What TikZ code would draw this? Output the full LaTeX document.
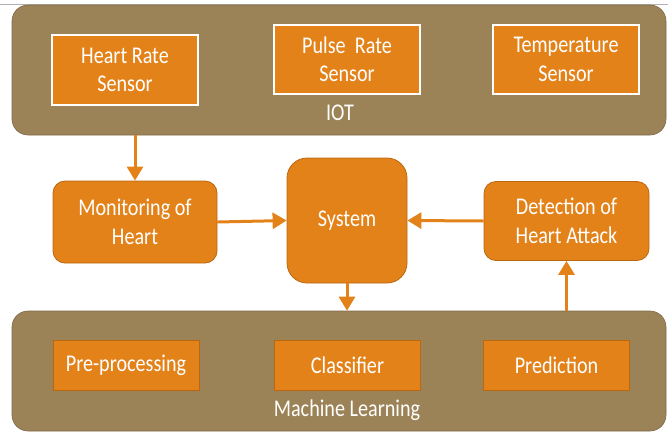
\documentclass[tikz,border=0pt]{standalone}
\usepackage{fontspec}
\setmainfont{Carlito}[FakeStretch=0.84]
\usetikzlibrary{arrows.meta}
\definecolor{tan}{HTML}{9C8357}
\definecolor{org}{HTML}{E4821A}
\definecolor{orgdark}{HTML}{B9680F}
\tikzset{
  lbl/.style={text=white, font=\fontsize{24}{28.5}\selectfont, align=center},
  group/.style={fill=tan, draw=tan!80!black, line width=0.6pt, rounded corners=16pt},
  sensor/.style={lbl, fill=org, draw=white, line width=1.6pt, minimum width=146pt, minimum height=70pt},
  mlbox/.style={lbl, fill=org, draw=orgdark, line width=0.8pt, minimum width=146pt, minimum height=50pt},
  rbox/.style={lbl, fill=org, draw=orgdark, line width=0.8pt, rounded corners=12pt},
  conn/.style={draw=org, line width=3pt, -{Triangle[length=14pt,width=16pt]}},
  grplabel/.style={lbl}
}
\begin{document}
\begin{tikzpicture}[x=1pt,y=-1pt]
\useasboundingbox (0,0) rectangle (668,434);
\draw[gray!60, line width=0.6pt] (0,4) -- (668,4);
% groups
\node[group, minimum width=654pt, minimum height=130pt, inner sep=0pt] (iot) at (339,70) {};
\node[group, minimum width=654pt, minimum height=120pt, inner sep=0pt] (ml) at (339,371) {};
% sensors
\node[sensor, inner sep=0pt] (hr) at (125,70) {Heart Rate\\Sensor};
\node[sensor, inner sep=0pt, minimum height=69pt] (pr) at (347,59.5) {Pulse\ \ Rate\\Sensor};
\node[sensor, inner sep=0pt, minimum height=69pt] (ts) at (566,59.5) {Temperature\\Sensor};
\node[grplabel] (iotl) at (340,113) {IOT};
% middle
\node[rbox, inner sep=0pt, minimum width=164pt, minimum height=82pt] (mon) at (135,222) {Monitoring of\\Heart};
\node[rbox, inner sep=0pt, minimum width=120pt, minimum height=125pt, rounded corners=20pt] (sys) at (347,220.5) {System};
\node[rbox, inner sep=0pt, minimum width=165pt, minimum height=79pt] (det) at (566.5,221) {Detection of\\Heart Attack};
% ML
\node[mlbox, inner sep=0pt] (pre) at (126,365) {Pre-processing};
\node[mlbox, inner sep=0pt] (cls) at (347.5,365) {Classifier};
\node[mlbox, inner sep=0pt] (prd) at (556.5,365) {Prediction};
\node[grplabel] (mll) at (347,410) {Machine Learning};
% connectors
\draw[conn] (mon.north |- iot.south) -- (mon.north);
\draw[conn] (mon.east) -- (sys.west);
\draw[conn] (det.west) -- (sys.east);
\draw[conn] (sys.south) -- (sys.south |- ml.north);
\draw[conn] (det.south |- ml.north) -- (det.south);
\end{tikzpicture}
\end{document}
